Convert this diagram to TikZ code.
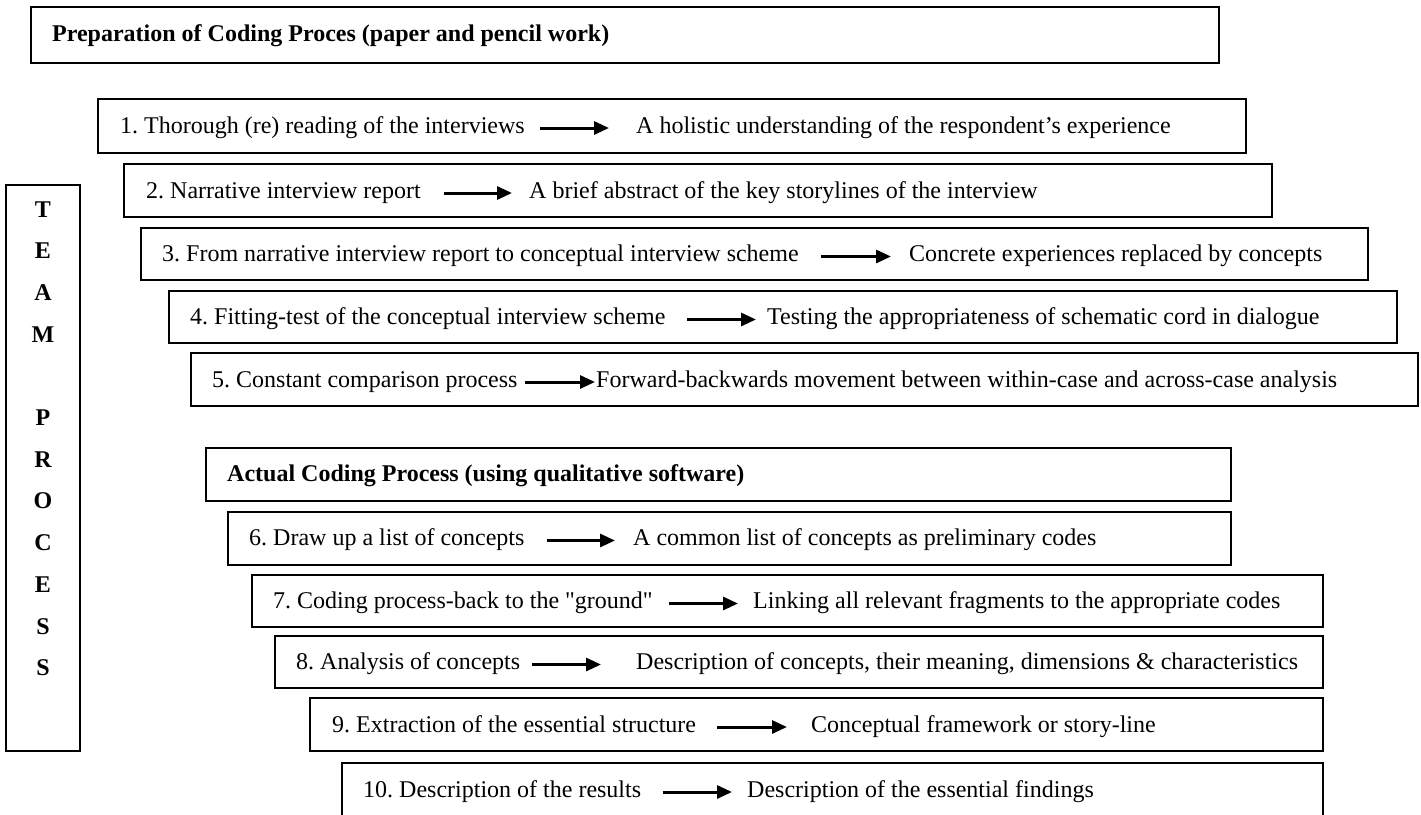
\documentclass[tikz,border=0pt]{standalone}
\usepackage{fontspec}
\setmainfont{Liberation Serif}
\frenchspacing
\usetikzlibrary{arrows.meta,fit}
\begin{document}
\begin{tikzpicture}[x=1pt,y=-1pt,
  frame/.style={draw=black, line width=1.7pt, inner sep=0pt},
  lbl/.style={anchor=base west, inner sep=0pt, font=\fontsize{24}{28}\selectfont},
  headlbl/.style={lbl, font=\fontsize{24}{28}\selectfont\bfseries},
  flow/.style={line width=3pt, -{Triangle[length=15pt,width=13pt]}},
  letter/.style={anchor=base, inner sep=0pt, font=\fontsize{24}{28}\selectfont\bfseries}]
\useasboundingbox (0,0) rectangle (1421,814);

% ---------- side bar: TEAM PROCESS ----------
\node[frame, fit={(6,185) (80,751)}] (team) {};
\foreach \ch/\k in {T/0,E/1,A/2,M/3,P/5,R/6,O/7,C/8,E/9,S/10,S/11}
  \node[letter] (team\k) at (43,{217+41.7*\k}) {\ch};

% ---------- preparation phase ----------
\node[frame, fit={(31,7) (1219,63)}] (h1) {};
\node[headlbl] (h1t) at (52,41) {Preparation of Coding Proces (paper and pencil work)};

\node[frame, fit={(98,99) (1246,153)}] (s1) {};
\node[lbl] (s1a) at (120,133) {1. Thorough (re) reading of the interviews};
\node[lbl] (s1b) at (636,133) {A holistic understanding of the respondent’s experience};
\coordinate (s1p) at (540,128); \coordinate (s1q) at (609,128);
\draw[flow] (s1p) -- (s1q);

\node[frame, fit={(124,164) (1272,217)}] (s2) {};
\node[lbl] (s2a) at (146,198) {2. Narrative interview report};
\node[lbl] (s2b) at (529,198) {A brief abstract of the key storylines of the interview};
\coordinate (s2p) at (444,193) ; \coordinate (s2q) at (512,193);
\draw[flow] (s2p) -- (s2q);

\node[frame, fit={(141,228) (1368,280)}] (s3) {};
\node[lbl] (s3a) at (162,261.5) {3. From narrative interview report to conceptual interview scheme};
\node[lbl] (s3b) at (909,261.5) {Concrete experiences replaced by concepts};
\coordinate (s3p) at (821,256.5); \coordinate (s3q) at (891,256.5);
\draw[flow] (s3p) -- (s3q);

\node[frame, fit={(169,291) (1397,343)}] (s4) {};
\node[lbl] (s4a) at (190,324.5) {4. Fitting-test of the conceptual interview scheme};
\node[lbl] (s4b) at (767,324.5) {Testing the appropriateness of schematic cord in dialogue};
\coordinate (s4p) at (687,319.5); \coordinate (s4q) at (756,319.5);
\draw[flow] (s4p) -- (s4q);

\node[frame, fit={(191,353) (1418,406)}] (s5) {};
\node[lbl] (s5a) at (212,387) {5. Constant comparison process};
\node[lbl] (s5b) at (596,387) {Forward-backwards movement between within-case and across-case analysis};
\coordinate (s5p) at (525,382); \coordinate (s5q) at (595,382);
\draw[flow] (s5p) -- (s5q);

% ---------- coding phase ----------
\node[frame, fit={(206,448) (1231,501)}] (h2) {};
\node[headlbl] (h2t) at (227,481.5) {Actual Coding Process (using qualitative software)};

\node[frame, fit={(228,512) (1231,565)}] (s6) {};
\node[lbl] (s6a) at (249,545.5) {6. Draw up a list of concepts};
\node[lbl] (s6b) at (633,545.5) {A common list of concepts as preliminary codes};
\coordinate (s6p) at (547,540.5); \coordinate (s6q) at (615,540.5);
\draw[flow] (s6p) -- (s6q);

\node[frame, fit={(252,575) (1323,627)}] (s7) {};
\node[lbl] (s7a) at (273,608.5) {7. Coding process-back to the \textquotedbl ground\textquotedbl};
\node[lbl] (s7b) at (753,608.5) {Linking all relevant fragments to the appropriate codes};
\coordinate (s7p) at (669,603.5); \coordinate (s7q) at (738,603.5);
\draw[flow] (s7p) -- (s7q);

\node[frame, fit={(275,636) (1323,688)}] (s8) {};
\node[lbl] (s8a) at (296,669.5) {8. Analysis of concepts};
\node[lbl] (s8b) at (636,669.5) {Description of concepts, their meaning, dimensions \& characteristics};
\coordinate (s8p) at (532,664.5); \coordinate (s8q) at (601,664.5);
\draw[flow] (s8p) -- (s8q);

\node[frame, fit={(310,698) (1323,751)}] (s9) {};
\node[lbl] (s9a) at (332,732) {9. Extraction of the essential structure};
\node[lbl] (s9b) at (811,732) {Conceptual framework or story-line};
\coordinate (s9p) at (717,727); \coordinate (s9q) at (787,727);
\draw[flow] (s9p) -- (s9q);

\node[frame, fit={(342,763) (1323,822)}] (s10) {};
\node[lbl] (s10a) at (363,797) {10. Description of the results};
\node[lbl] (s10b) at (747,797) {Description of the essential findings};
\coordinate (s10p) at (663,792); \coordinate (s10q) at (732,792);
\draw[flow] (s10p) -- (s10q);
\end{tikzpicture}
\end{document}
